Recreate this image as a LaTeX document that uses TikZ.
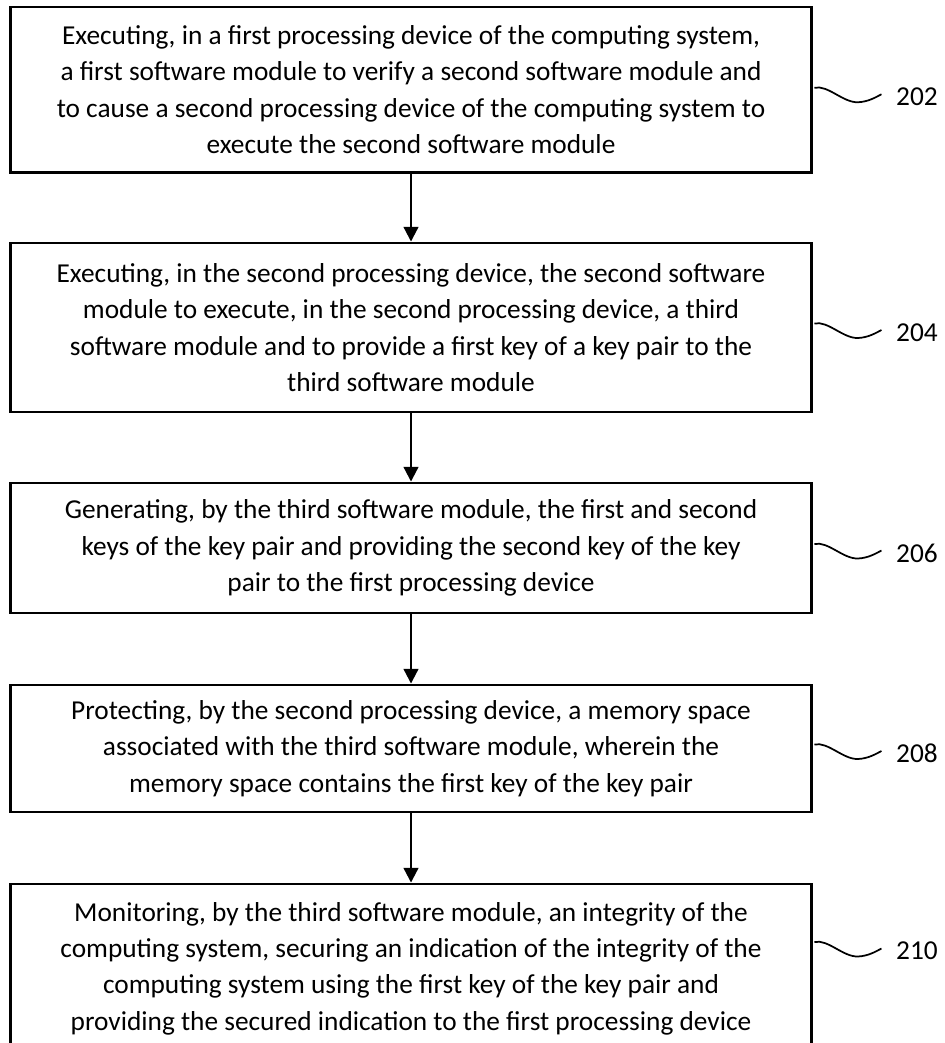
\documentclass[tikz,border=0pt]{standalone}
\usepackage{fontspec}
\setmainfont{Carlito}
\usetikzlibrary{arrows.meta}
\begin{document}
\begin{tikzpicture}[x=0.75pt,y=-0.75pt,
  box/.style={draw,line width=2.2pt,minimum width=600.75pt,align=center,inner sep=0pt,
    font=\fontsize{20.5}{27.3}\selectfont},
  flow/.style={line width=1.6pt,-{Triangle[length=11pt,width=11pt]}},
  wave/.style={line width=1.3pt},
  num/.style={font=\fontsize{20.5}{24}\selectfont,anchor=west,inner sep=0pt}]
\useasboundingbox (0,0) rectangle (945,1043);
\clip (0,0) rectangle (945,1043);
\node[box,minimum height=124.1pt] (b1) at (411,89.75)
  {Executing, in a first processing device of the computing system,\\
   a first software module to verify a second software module and\\
   to cause a second processing device of the computing system to\\
   execute the second software module};
\node[box,minimum height=126.75pt] (b2) at (411,327.5)
  {Executing, in the second processing device, the second software\\
   module to execute, in the second processing device, a third\\
   software module and to provide a first key of a key pair to the\\
   third software module};
\node[box,minimum height=97.5pt] (b3) at (411,548)
  {Generating, by the third software module, the first and second\\
   keys of the key pair and providing the second key of the key\\
   pair to the first processing device};
\node[box,minimum height=95.25pt] (b4) at (411,748.5)
  {Protecting, by the second processing device, a memory space\\
   associated with the third software module, wherein the\\
   memory space contains the first key of the key pair};
\node[box,minimum height=126.75pt] (b5) at (411,968.5)
  {Monitoring, by the third software module, an integrity of the\\
   computing system, securing an indication of the integrity of the\\
   computing system using the first key of the key pair and\\
   providing the secured indication to the first processing device};
\draw[flow] (b1) -- (b2);
\draw[flow] (b2) -- (b3);
\draw[flow] (b3) -- (b4);
\draw[flow] (b4) -- (b5);
\foreach \b/\n/\dy in {b1/202/-2, b2/204/-4, b3/206/-4, b4/208/-4, b5/210/-26.5}{
  \begin{scope}[shift={(\b.east)},yshift=-0.75*\dy pt]
    \draw[wave] (1.5,0) .. controls (15,-3) and (30,15) .. (45,14.5)
      .. controls (55,14) and (62,10) .. (68.5,6.5);
    \node[num] (l\n) at (83,9) {\n};
  \end{scope}
}
\end{tikzpicture}
\end{document}
